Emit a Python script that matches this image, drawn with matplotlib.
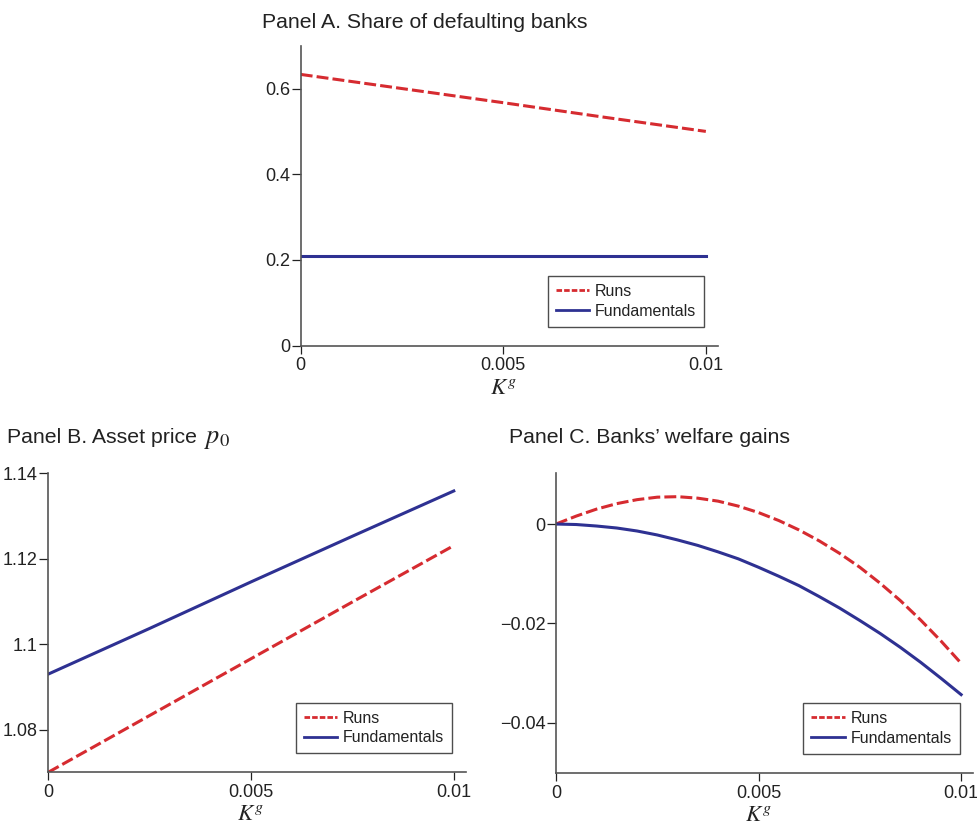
import matplotlib
matplotlib.use("Agg")
import matplotlib.pyplot as plt
from matplotlib.lines import Line2D

plt.rcParams["font.family"] = ["Liberation Sans", "DejaVu Sans"]
plt.rcParams["mathtext.fontset"] = "stix"

RED = "#D62B30"
BLUE = "#2E3192"
SPINE = "#555555"
TEXT = "#222222"

# Capital requirement K^g grid
kg = [0.0, 0.0025, 0.005, 0.0075, 0.01]
kg_fine = [0.0, 0.0005, 0.001, 0.0015, 0.002, 0.0025, 0.003, 0.0035, 0.004, 0.0045,
           0.005, 0.0055, 0.006, 0.0065, 0.007, 0.0075, 0.008, 0.0085, 0.009, 0.0095, 0.01]

# Panel A: share of defaulting banks
default_runs = [0.633, 0.600, 0.567, 0.533, 0.500]
default_fund = [0.210, 0.210, 0.210, 0.210, 0.210]

# Panel B: asset price p0
price_runs = [1.0700, 1.0833, 1.0966, 1.1099, 1.1231]
price_fund = [1.0930, 1.1037, 1.1146, 1.1253, 1.1359]

# Panel C: banks' welfare gains
welfare_runs = [0.0, 0.0016, 0.0030, 0.0041, 0.0049, 0.0054, 0.0055, 0.0052, 0.0046, 0.0036,
                0.0023, 0.0007, -0.0012, -0.0034, -0.0059, -0.0087, -0.0119, -0.0154,
                -0.0193, -0.0235, -0.0280]
welfare_fund = [0.0, -0.0001, -0.0004, -0.0008, -0.0014, -0.0022, -0.0032, -0.0043,
                -0.0056, -0.0070, -0.0087, -0.0105, -0.0124, -0.0146, -0.0169, -0.0194,
                -0.0220, -0.0248, -0.0278, -0.0310, -0.0343]

x_ticks = [0, 0.005, 0.01]
x_ticklabels = ["0", "0.005", "0.01"]
a_yticks = [0, 0.2, 0.4, 0.6]
a_yticklabels = ["0", "0.2", "0.4", "0.6"]
b_yticks = [1.08, 1.10, 1.12, 1.14]
b_yticklabels = ["1.08", "1.1", "1.12", "1.14"]
c_yticks = [-0.04, -0.02, 0.0]
c_yticklabels = ["\u22120.04", "\u22120.02", "0"]

fig = plt.figure(figsize=(9.77, 8.25), dpi=100)

ax_a = fig.add_axes([0.3078, 0.5810, 0.4271, 0.3636])
ax_b = fig.add_axes([0.0494, 0.0639, 0.4275, 0.3622])
ax_c = fig.add_axes([0.5691, 0.0634, 0.4271, 0.3629])

LW = 2.2
DASH = (3.9, 1.35)
XMAX = 0.0103


def style(ax, yticks, yticklabels, ylim):
    ax.set_xlim(0, XMAX)
    ax.set_ylim(*ylim)
    ax.set_xticks(x_ticks)
    ax.set_xticklabels(x_ticklabels)
    ax.set_yticks(yticks)
    ax.set_yticklabels(yticklabels)
    for s in ("top", "right"):
        ax.spines[s].set_visible(False)
    for s in ("left", "bottom"):
        ax.spines[s].set_color(SPINE)
        ax.spines[s].set_linewidth(1.2)
    ax.tick_params(axis="y", direction="out", length=6.5, width=0.9,
                   color=TEXT, pad=1, labelsize=13, labelcolor=TEXT)
    ax.tick_params(axis="x", direction="out", length=5.5, width=0.9,
                   color=TEXT, pad=3, labelsize=13, labelcolor=TEXT)
    ax.set_xlabel("$K^g$", fontsize=16.5, labelpad=1, color=TEXT)
    ax.xaxis.label.set_x(0.005 / XMAX)


def add_legend(ax):
    handles = [
        Line2D([], [], color=RED, lw=2.0, dashes=(2.0, 0.75)),
        Line2D([], [], color=BLUE, lw=2.0),
    ]
    leg = ax.legend(handles, ["Runs", "Fundamentals"],
                    loc="lower right", bbox_to_anchor=(0.967, 0.063),
                    fontsize=11.5, frameon=True, fancybox=False,
                    handlelength=2.1, handletextpad=0.35, borderpad=0.5,
                    labelspacing=0.3, borderaxespad=0)
    leg.get_frame().set_edgecolor(TEXT)
    leg.get_frame().set_linewidth(1.0)
    for t in leg.get_texts():
        t.set_color(TEXT)


# Panel A
ax_a.plot(kg, default_runs, color=RED, lw=LW, dashes=DASH)
ax_a.plot(kg, default_fund, color=BLUE, lw=LW)
style(ax_a, a_yticks, a_yticklabels, (0, 0.70))
add_legend(ax_a)

# Panel B
ax_b.plot(kg, price_runs, color=RED, lw=LW, dashes=DASH)
ax_b.plot(kg, price_fund, color=BLUE, lw=LW)
style(ax_b, b_yticks, b_yticklabels, (1.07, 1.14))
add_legend(ax_b)

# Panel C
ax_c.plot(kg_fine, welfare_runs, color=RED, lw=LW, dashes=DASH)
ax_c.plot(kg_fine, welfare_fund, color=BLUE, lw=LW)
style(ax_c, c_yticks, c_yticklabels, (-0.05, 0.0102))
add_legend(ax_c)

# Panel titles
TITLE_KW = dict(fontsize=15.3, color=TEXT, va="baseline", ha="left")
fig.text(261.7 / 977, 1 - 28.3 / 825, "Panel A. Share of defaulting banks", **TITLE_KW)
fig.text(7.3 / 977, 1 - 443 / 825, "Panel B. Asset price", **TITLE_KW)
fig.text(203.5 / 977, 1 - 443 / 825, "$p_0$", fontsize=19, color=TEXT,
         va="baseline", ha="left")
fig.text(509.3 / 977, 1 - 442.7 / 825, "Panel C. Banks\u2019 welfare gains", **TITLE_KW)

fig.savefig("out.png", dpi=100)
